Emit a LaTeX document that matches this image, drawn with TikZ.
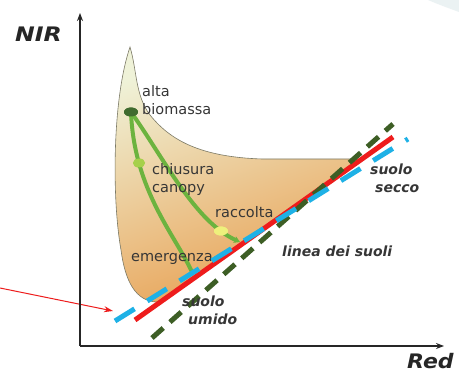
\documentclass[tikz,border=0pt]{standalone}
\usepackage{fontspec}
\setmainfont{DejaVu Sans}
\usetikzlibrary{arrows.meta,shapes.geometric}
\definecolor{leafpale}{HTML}{EFF2D8}
\definecolor{leaftan}{HTML}{ECC48C}
\definecolor{leaforange}{HTML}{E8A052}
\definecolor{leafrim}{HTML}{7C7A66}
\definecolor{trailgreen}{HTML}{6CB33F}
\definecolor{darkdot}{HTML}{3F6B2E}
\definecolor{lightdot}{HTML}{A6D04B}
\definecolor{yellowdot}{HTML}{EEF07C}
\definecolor{soilred}{HTML}{EE1C1C}
\definecolor{soilblue}{HTML}{1EB1E6}
\definecolor{soilgreen}{HTML}{3D5E25}
\definecolor{labelgray}{HTML}{363636}
\definecolor{cornerblue}{HTML}{EBF2F3}
\def\leafshape{(130,47) .. controls (137,70) and (135,95) .. (150,115) .. controls (170,140) and (200,157) .. (262,159) -- (360,159) -- (158,302) .. controls (135,302) and (125,280) .. (121,250) .. controls (112,200) and (112,100) .. (130,47) -- cycle}
\def\leafrimline{(158,302) .. controls (135,302) and (125,280) .. (121,250) .. controls (112,200) and (112,100) .. (130,47) .. controls (137,70) and (135,95) .. (150,115) .. controls (170,140) and (200,157) .. (262,159) -- (352,159)}

\begin{document}
\begin{tikzpicture}[x=1pt,y=-1pt,
    lbl/.style={font=\fontsize{14.5}{18}\selectfont,text=labelgray,inner sep=0pt,anchor=base west,align=left},
    soillbl/.style={font=\fontsize{14}{18}\selectfont\bfseries\itshape,text=labelgray,inner sep=0pt,anchor=base west,align=left},
    axislbl/.style={font=\fontsize{20}{24}\selectfont\bfseries\itshape,text=black!85,inner sep=0pt,anchor=base west},
    axis/.style={line width=1.4pt,black!85,-{Stealth[length=8pt,width=6pt]}},
    trail/.style={line width=4pt,trailgreen},
    stage/.style={ellipse,inner sep=0pt,minimum width=14pt,minimum height=9pt},
    soil/.style={line width=5pt}]
  \useasboundingbox (0,0) rectangle (459,374);
  \fill[white] (0,0) rectangle (459,374);
  \fill[cornerblue] (428,0) .. controls (440,5) .. (459,12) -- (459,0) -- cycle;
  \shade[top color=leafpale,middle color=leaftan,bottom color=leaforange,shading angle=20] \leafshape;
  \draw[leafrim,line width=0.6pt] \leafrimline;
  \node[stage,fill=darkdot] (alta) at (131,112) {};
  \node[stage,fill=lightdot,minimum width=12pt] (chiusura) at (139,163) {};
  \node[stage,fill=yellowdot] (raccolta) at (221,231) {};
  \coordinate (emergEnd) at (192,272);
  \coordinate (racEnd) at (240,242);
  \draw[trail] (alta.center) .. controls (134,190) and (175,235) .. (emergEnd);
  \draw[trail,-{Stealth[length=6pt,width=7pt]}] (alta.center) .. controls (165,160) and (195,222) .. (racEnd);
  \node[stage,fill=darkdot] at (alta) {};
  \node[stage,fill=lightdot,minimum width=12pt] at (chiusura) {};
  \node[stage,fill=yellowdot] at (raccolta) {};
  \node[lbl] (altaLbl) at (142,115) {alta\\biomassa};
  \node[lbl] (chiusuraLbl) at (152,193) {chiusura\\canopy};
  \node[lbl] (raccoltaLbl) at (215,218) {raccolta};
  \node[lbl] (emergLbl) at (131,262) {emergenza};
  \coordinate (redA) at (135,320);
  \coordinate (redB) at (393,137);
  \coordinate (blueA) at (115,321);
  \coordinate (blueB) at (408,139);
  \coordinate (greenA) at (152,338);
  \coordinate (greenB) at (393,124);
  \draw[soil,soilred] (redA) -- (redB);
  \draw[soil,soilgreen,dash pattern=on 15pt off 9pt] (greenA) -- (greenB);
  \draw[soil,soilblue,dash pattern=on 23pt off 15pt] (blueA) -- (blueB);
  \node[soillbl] (umidoLbl) at (182,325) {suolo\\\hspace*{6pt}umido};
  \node[soillbl] (seccoLbl) at (370,193) {suolo\\\hspace*{5pt}secco};
  \node[soillbl] (lineaLbl) at (282,257) {linea dei suoli};
  \coordinate (ptrStart) at (0,288);
  \coordinate (ptrEnd) at (113,311);
  \draw[soilred,line width=1pt,-{Stealth[length=9pt,width=6pt]}] (ptrStart) -- (ptrEnd);
  \coordinate (origin) at (80,346);
  \coordinate (yTip) at (80,13);
  \coordinate (xTip) at (444,346);
  \draw[axis] (origin) -- (yTip);
  \draw[axis] (origin) -- (xTip);
  \node[axislbl] (nirLbl) at (15,42) {\scalebox{1.18}[1]{NIR}};
  \node[axislbl] (redLbl) at (407,369) {\scalebox{1.1}[1]{Red}};
\end{tikzpicture}
\end{document}
